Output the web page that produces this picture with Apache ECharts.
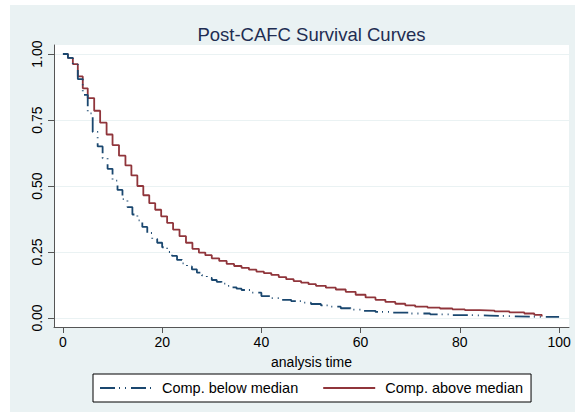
<!DOCTYPE html>
<html>
<head>
<meta charset="utf-8">
<script src="https://cdn.jsdelivr.net/npm/echarts@6/dist/echarts.min.js"></script>
<style>
html,body{margin:0;padding:0;background:#ffffff;}
#chart{width:582px;height:417px;}
</style>
</head>
<body>
<div id="chart"></div>
<script>
// ---- data ----
var chartTitle = 'Post-CAFC Survival Curves';
var xAxisTitle = 'analysis time';
var seriesNames = ['Comp. below median', 'Comp. above median'];
var xTicks = [0, 20, 40, 60, 80, 100];
var yTicks = [0, 0.25, 0.5, 0.75, 1];

var timeBelow = [0,1,2,3,4,5,6,7,8,9,10,11,12,13,14,15,16,17,18,19,20,21,22,23,24,25,26,27,28,29,30,31,32,33,34,35,36,38,40,42,44,46,48,50,52,54,56,58,60,63,66,70,74,78,82,86,90,94,100];
var survBelow = [1,0.985,0.96,0.905,0.845,0.775,0.705,0.65,0.605,0.565,0.52,0.485,0.45,0.42,0.392,0.37,0.345,0.322,0.3,0.285,0.268,0.25,0.235,0.22,0.207,0.195,0.184,0.172,0.162,0.152,0.144,0.137,0.13,0.122,0.116,0.111,0.106,0.096,0.083,0.075,0.069,0.064,0.058,0.053,0.048,0.043,0.037,0.032,0.027,0.023,0.02,0.017,0.014,0.011,0.009,0.007,0.005,0.004,0.003];

var timeAbove = [0,1,2,3,4,5,6.3,7.5,8.8,10,11.3,12.6,13.8,15,16.2,17.4,18.6,19.8,21,22.2,23.5,24.8,26.1,27.4,28.7,30,31.5,33,34.5,36,37.5,39,40.5,42,43.5,45,46.5,48,49.5,51,53,55,57,59,61,63,65,67,69,71,73.5,76,78.5,81,84,87,90,93,95,96.5];
var survAbove = [1,0.985,0.962,0.915,0.87,0.833,0.785,0.74,0.695,0.655,0.615,0.578,0.54,0.5,0.465,0.435,0.41,0.385,0.36,0.335,0.31,0.285,0.262,0.248,0.238,0.226,0.216,0.205,0.197,0.19,0.183,0.176,0.17,0.163,0.155,0.147,0.14,0.134,0.128,0.122,0.115,0.108,0.099,0.088,0.078,0.069,0.061,0.054,0.048,0.043,0.039,0.036,0.033,0.03,0.028,0.025,0.021,0.017,0.012,0.006];

function pairs(t, s) { return t.map(function (v, i) { return [v, s[i]]; }); }

var chart = echarts.init(document.getElementById('chart'), null, {renderer: 'svg'});
var FONT = '"Liberation Sans", Arial, Helvetica, sans-serif';

chart.setOption({
  animation: false,
  backgroundColor: '#ffffff',
  graphic: [
    {type: 'rect', z: -10, silent: true, shape: {x: 10, y: 5, width: 565, height: 407}, style: {fill: '#eaf2f3'}},
    {type: 'text', z: 10, x: 311.5, y: 34, style: {text: chartTitle, fill: '#1e2d52', font: '18.5px ' + FONT, textAlign: 'center', textVerticalAlign: 'middle'}}
  ],
  grid: {left: 54, top: 45, right: 13, bottom: 90, show: true, backgroundColor: '#ffffff', borderWidth: 0, containLabel: false},
  legend: {
    data: seriesNames,
    left: 93, top: 374,
    orient: 'horizontal',
    padding: [5, 8, 5, 6],
    itemWidth: 52, itemHeight: 14, itemGap: 24,
    itemStyle: {opacity: 0},
    backgroundColor: '#ffffff', borderColor: '#000000', borderWidth: 1,
    textStyle: {fontFamily: FONT, fontSize: 14.5, color: '#000000', lineHeight: 18, padding: [0, 0, 0, 5]}
  },
  xAxis: {
    type: 'value', min: -1.8, max: 102,
    name: xAxisTitle, nameLocation: 'middle', nameGap: 28,
    nameTextStyle: {fontFamily: FONT, fontSize: 14, color: '#000000'},
    axisLine: {show: true, onZero: false, lineStyle: {color: '#555555', width: 1}},
    axisTick: {show: true, length: 6, customValues: xTicks, lineStyle: {color: '#555555'}},
    axisLabel: {customValues: xTicks, margin: 8, fontFamily: FONT, fontSize: 14, color: '#000000'},
    splitLine: {show: false}
  },
  yAxis: {
    type: 'value', min: -0.0341, max: 1.0341,
    axisLine: {show: true, onZero: false, lineStyle: {color: '#555555', width: 1}},
    axisTick: {show: true, length: 6, customValues: yTicks, lineStyle: {color: '#555555'}},
    axisLabel: {customValues: yTicks, rotate: 90, margin: 10, fontFamily: FONT, fontSize: 14, color: '#000000',
      formatter: function (v) { return v.toFixed(2); }},
    splitLine: {show: true, lineStyle: {color: '#eaf2f3', width: 1}}
  },
  series: [
    {
      name: seriesNames[0], type: 'line', step: 'end', symbol: 'none',
      data: pairs(timeBelow, survBelow),
      lineStyle: {color: '#1a476f', width: 1.8, type: [15, 4, 1, 5, 1, 5]},
      itemStyle: {color: '#1a476f'}, z: 3
    },
    {
      name: seriesNames[1], type: 'line', step: 'end', symbol: 'none',
      data: pairs(timeAbove, survAbove),
      lineStyle: {color: '#90353b', width: 1.8, type: 'solid'},
      itemStyle: {color: '#90353b'}, z: 2
    }
  ]
});
</script>
</body>
</html>
